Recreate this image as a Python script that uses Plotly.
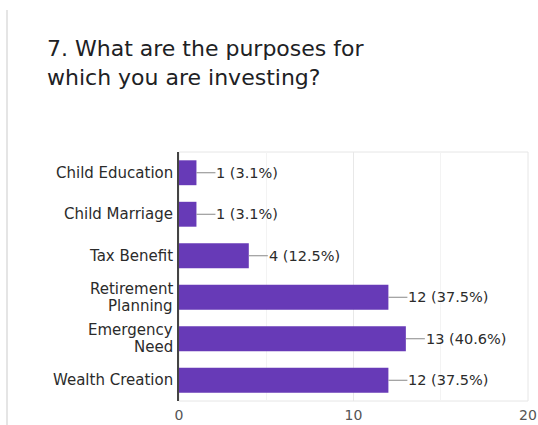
import plotly.graph_objects as go

# Survey responses: purposes for investing
categories = ["Child Education", "Child Marriage", "Tax Benefit",
              "Retirement<br>Planning", "Emergency<br>Need", "Wealth Creation"]
counts = [1, 1, 4, 12, 13, 12]
percents = [3.1, 3.1, 12.5, 37.5, 40.6, 37.5]
x_ticks = [0, 10, 20]
title_lines = ["7. What are the purposes for", "which you are investing?"]

W, H = 538, 425
# plotting area in page pixels
PX0, PX1, PY0, PY1 = 179, 528, 152, 401
PW, PH = PX1 - PX0, PY1 - PY0
FONT = "DejaVu Sans"
BAR = "#673ab7"
TEXT = "#2b2b2b"


def px_to_paper_x(px):
    return (px - PX0) / PW


def px_to_paper_y(py):
    return (PY1 - py) / PH


fig = go.Figure()
fig.add_trace(go.Bar(
    x=counts, y=categories, orientation="h",
    marker=dict(color=BAR, line=dict(width=0)),
    hoverinfo="skip",
))

annotations = []

# value labels with a short stem from the bar end
for cat, n, p in zip(categories, counts, percents):
    annotations.append(dict(
        x=n, y=cat, xref="x", yref="y",
        text=f"{n} ({p}%)", showarrow=True, arrowhead=0,
        arrowwidth=1, arrowcolor="#888888", ax=19, ay=0,
        xanchor="left", yanchor="middle", borderpad=0,
        font=dict(family=FONT, size=14.5, color=TEXT),
    ))

# category labels, one annotation per line for tighter line spacing
LINE_STEP = 17
for cat in categories:
    parts = cat.split("<br>")
    k = len(parts)
    for i, part in enumerate(parts):
        annotations.append(dict(
            x=0, y=cat, xref="paper", yref="y",
            text=part, showarrow=False,
            xanchor="right", yanchor="middle", xshift=-4,
            yshift=((k - 1) / 2 - i) * LINE_STEP,
            font=dict(family=FONT, size=15, color=TEXT),
        ))

# question title
for i, line in enumerate(title_lines):
    annotations.append(dict(
        x=px_to_paper_x(45), y=px_to_paper_y(48.5 + 29 * i),
        xref="paper", yref="paper", text=line, showarrow=False,
        xanchor="left", yanchor="middle",
        font=dict(family=FONT, size=22, color="#202124"),
    ))

shapes = [
    # light frame around the plotting area
    dict(type="rect", xref="paper", yref="paper", x0=0, x1=1, y0=0, y1=1,
         line=dict(color="#e6e6e6", width=1), layer="below"),
    # left edge of the card
    dict(type="line", xref="paper", yref="paper",
         x0=px_to_paper_x(7), x1=px_to_paper_x(7),
         y0=px_to_paper_y(10), y1=px_to_paper_y(H + 5),
         line=dict(color="#dddddd", width=1.5)),
]

fig.update_layout(
    width=W, height=H, autosize=False,
    margin=dict(l=PX0, r=W - PX1, t=PY0, b=H - PY1, pad=0),
    paper_bgcolor="white", plot_bgcolor="white",
    showlegend=False, bargap=0.4,
    annotations=annotations, shapes=shapes,
    xaxis=dict(
        range=[0, 20], tickvals=x_ticks, ticktext=[str(v) for v in x_ticks],
        automargin=False, ticklabelstandoff=4,
        showgrid=True, gridcolor="#e8e8e8", gridwidth=1,
        minor=dict(dtick=5, showgrid=True, gridcolor="#f3f3f3"),
        zeroline=False, showline=False, ticks="",
        tickfont=dict(family=FONT, size=14, color="#555555"),
        fixedrange=True,
    ),
    yaxis=dict(
        autorange="reversed", showticklabels=False, ticks="",
        automargin=False,
        showgrid=False, zeroline=False,
        showline=True, linecolor="#444444", linewidth=1.5,
        fixedrange=True,
    ),
)

fig.write_html("out.html", config={"displayModeBar": False})
